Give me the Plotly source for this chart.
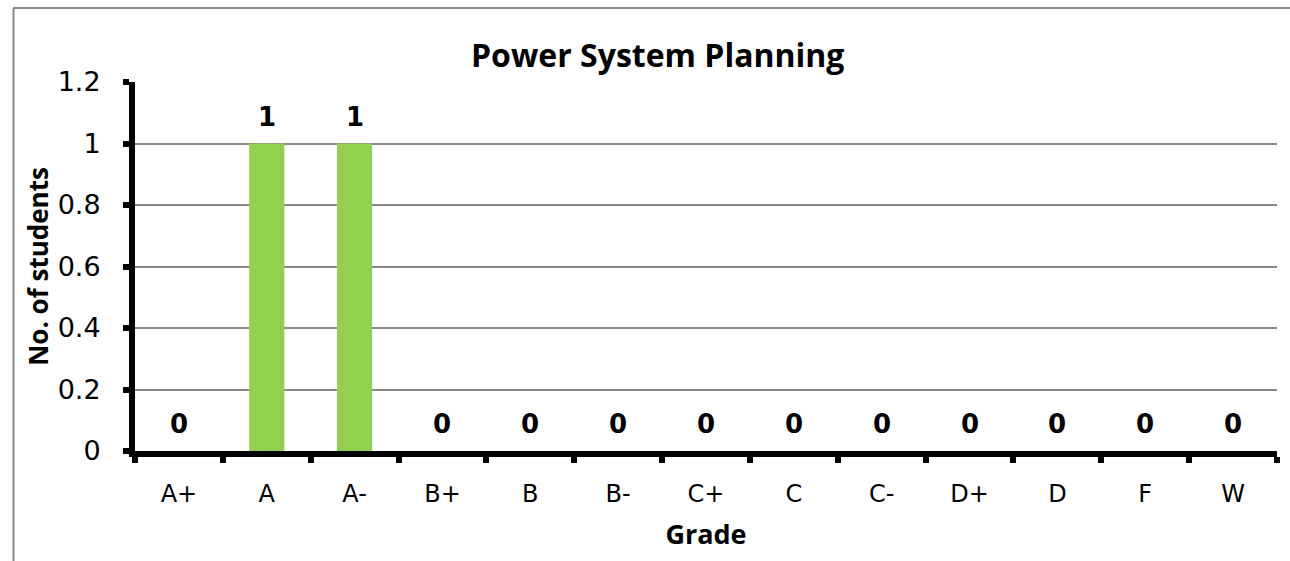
import plotly.graph_objects as go

grades = ["A+", "A", "A-", "B+", "B", "B-", "C+", "C", "C-", "D+", "D", "F", "W"]
students = [0, 1, 1, 0, 0, 0, 0, 0, 0, 0, 0, 0, 0]
y_ticks = [0, 0.2, 0.4, 0.6, 0.8, 1, 1.2]
y_tick_text = ["0", "0.2", "0.4", "0.6", "0.8", "1", "1.2"]

W, H = 1290, 561
L, R, T, B = 135, 13, 82, 110

fig = go.Figure()
fig.add_trace(go.Bar(
    x=grades, y=students, width=0.4,
    marker=dict(color="#92D050", line=dict(width=0)),
    hoverinfo="skip",
))

for g, v in zip(grades, students):
    fig.add_annotation(
        x=g, y=v, xref="x", yref="y", text=str(v), showarrow=False,
        yanchor="middle", yshift=27,
        font=dict(family="DejaVu Sans", size=26, color="black", weight="bold"),
    )

pw = W - L - R
ph = H - T - B
def px2x(px):
    return (px - L) / pw
def py2y(py):
    return (H - B - py) / ph

# outer chart-area border (left and top edges)
fig.add_shape(type="line", xref="paper", yref="paper",
              x0=px2x(13.5), x1=px2x(13.5), y0=py2y(8), y1=py2y(561),
              line=dict(color="#8a8a8a", width=2))
fig.add_shape(type="line", xref="paper", yref="paper",
              x0=px2x(13), x1=px2x(1290), y0=py2y(8), y1=py2y(8),
              line=dict(color="#8a8a8a", width=2))

fig.add_annotation(
    x=px2x(657.5), y=py2y(54), xref="paper", yref="paper",
    text="Power System Planning", showarrow=False, xanchor="center", yanchor="middle",
    font=dict(family="Open Sans", size=32, color="black", weight="bold"),
)

fig.update_layout(
    width=W, height=H,
    margin=dict(l=L, r=R, t=T, b=B),
    paper_bgcolor="white", plot_bgcolor="white",
    showlegend=False,
    bargap=0.6,
    xaxis=dict(
        type="category", range=[-0.5, 12.5],
        showline=True, linecolor="black", linewidth=6,
        ticks="outside", ticklen=6, tickwidth=6, tickcolor="black",
        tickson="boundaries", showgrid=False,
        tickfont=dict(family="DejaVu Sans", size=24, color="black"),
        ticklabelstandoff=16,
        title=dict(text="Grade", standoff=20,
                   font=dict(family="Open Sans", size=27, color="black", weight="bold")),
    ),
    yaxis=dict(
        range=[0, 1.2], tickvals=y_ticks, ticktext=y_tick_text,
        showline=True, linecolor="black", linewidth=6,
        ticks="outside", ticklen=6, tickwidth=6, tickcolor="black",
        showgrid=True, gridcolor="#888888", gridwidth=2,
        zeroline=False,
        tickfont=dict(family="DejaVu Sans", size=27, color="black"),
        ticklabelstandoff=17,
        title=dict(text="No. of students", standoff=4,
                   font=dict(family="Open Sans", size=26, color="black", weight="bold")),
    ),
)

fig.write_html("out.html", config={"displayModeBar": False},
               post_script="document.body.style.margin='0';")
